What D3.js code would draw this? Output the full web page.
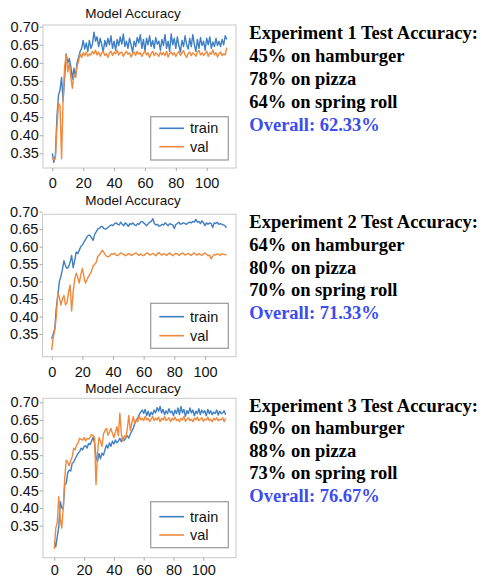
<!DOCTYPE html>
<html><head><meta charset="utf-8">
<script src="https://cdn.jsdelivr.net/npm/d3@7"></script>
<style>body{margin:0;background:#fff}</style>
</head><body>
<script>
// ---- data ----
const xTickValues = [0, 20, 40, 60, 80, 100];
const yTickValues = [0.35, 0.40, 0.45, 0.50, 0.55, 0.60, 0.65, 0.70];
const seriesNames = ["train", "val"];
const chartTitle = "Model Accuracy";

const train1 = [0.350,0.325,0.345,0.450,0.510,0.525,0.560,0.495,0.560,0.625,0.600,0.612,0.590,0.555,0.585,0.560,0.600,0.615,0.632,0.640,
0.662,0.638,0.655,0.632,0.662,0.640,0.652,0.685,0.660,0.672,0.645,0.668,0.650,0.630,0.662,0.645,0.668,0.650,0.675,0.640,
0.660,0.635,0.665,0.648,0.672,0.652,0.680,0.645,0.660,0.640,0.668,0.650,0.630,0.660,0.645,0.670,0.655,0.678,0.640,0.665,
0.632,0.668,0.650,0.675,0.645,0.662,0.640,0.670,0.652,0.660,0.635,0.665,0.648,0.678,0.640,0.660,0.632,0.680,0.650,0.668,
0.640,0.672,0.648,0.630,0.662,0.645,0.675,0.650,0.638,0.668,0.645,0.678,0.650,0.632,0.665,0.640,0.670,0.648,0.660,0.635,
0.668,0.650,0.672,0.640,0.658,0.645,0.668,0.648,0.660,0.645,0.665,0.650,0.675,0.665];
const val1 = [0.338,0.332,0.335,0.420,0.488,0.482,0.335,0.500,0.590,0.622,0.575,0.600,0.560,0.530,0.568,0.560,0.590,0.605,0.625,0.615,
0.628,0.620,0.630,0.618,0.625,0.622,0.632,0.625,0.635,0.622,0.630,0.618,0.628,0.632,0.620,0.626,0.615,0.628,0.632,0.620,
0.630,0.625,0.635,0.622,0.628,0.630,0.618,0.626,0.632,0.624,0.628,0.616,0.625,0.630,0.620,0.632,0.624,0.628,0.618,0.626,
0.634,0.622,0.628,0.615,0.626,0.632,0.620,0.628,0.624,0.618,0.630,0.622,0.628,0.620,0.632,0.616,0.626,0.630,0.622,0.628,
0.618,0.626,0.632,0.620,0.628,0.634,0.622,0.615,0.626,0.630,0.620,0.628,0.624,0.618,0.630,0.634,0.622,0.628,0.620,0.626,
0.632,0.618,0.628,0.624,0.636,0.622,0.628,0.616,0.626,0.630,0.620,0.625,0.622,0.642];

const train2 = [0.336,0.350,0.365,0.425,0.460,0.500,0.515,0.535,0.560,0.545,0.538,0.542,0.555,0.575,0.540,0.560,0.585,0.580,0.590,0.600,
0.605,0.612,0.620,0.628,0.633,0.632,0.625,0.618,0.635,0.642,0.650,0.652,0.657,0.658,0.652,0.650,0.652,0.656,0.660,0.662,
0.660,0.666,0.668,0.664,0.662,0.670,0.664,0.660,0.668,0.664,0.658,0.666,0.664,0.668,0.662,0.660,0.666,0.664,0.670,0.672,
0.668,0.664,0.660,0.666,0.670,0.672,0.680,0.666,0.662,0.664,0.658,0.660,0.664,0.662,0.668,0.664,0.660,0.666,0.664,0.662,
0.652,0.664,0.666,0.670,0.664,0.666,0.668,0.666,0.664,0.668,0.670,0.668,0.672,0.670,0.678,0.670,0.672,0.666,0.674,0.668,
0.660,0.668,0.664,0.668,0.666,0.655,0.668,0.666,0.670,0.664,0.666,0.664,0.662,0.660,0.654];
const val2 = [0.304,0.342,0.360,0.400,0.469,0.455,0.433,0.450,0.460,0.433,0.440,0.470,0.490,0.416,0.470,0.507,0.524,0.512,0.496,0.520,
0.538,0.515,0.496,0.505,0.515,0.522,0.530,0.545,0.549,0.555,0.571,0.576,0.582,0.590,0.584,0.576,0.572,0.571,0.575,0.580,
0.578,0.581,0.576,0.574,0.578,0.582,0.580,0.578,0.574,0.576,0.580,0.578,0.575,0.577,0.580,0.582,0.578,0.575,0.579,0.576,
0.574,0.578,0.582,0.580,0.576,0.578,0.581,0.577,0.574,0.580,0.583,0.578,0.576,0.580,0.578,0.575,0.579,0.582,0.577,0.574,
0.578,0.581,0.579,0.575,0.578,0.582,0.580,0.576,0.578,0.581,0.577,0.575,0.579,0.582,0.578,0.576,0.580,0.577,0.575,0.579,
0.582,0.578,0.574,0.576,0.565,0.572,0.578,0.576,0.579,0.577,0.575,0.580,0.578,0.577,0.576];

const train3 = [0.305,0.290,0.320,0.345,0.418,0.400,0.398,0.465,0.470,0.500,0.508,0.505,0.527,0.530,0.540,0.548,0.555,0.560,0.570,0.565,
0.575,0.577,0.570,0.583,0.580,0.590,0.600,0.585,0.545,0.532,0.555,0.540,0.556,0.550,0.565,0.579,0.570,0.585,0.575,0.590,
0.582,0.593,0.585,0.590,0.598,0.588,0.600,0.592,0.600,0.605,0.598,0.610,0.618,0.626,0.640,0.650,0.655,0.665,0.672,0.678,
0.668,0.680,0.662,0.675,0.660,0.672,0.665,0.678,0.670,0.685,0.675,0.688,0.670,0.680,0.665,0.676,0.668,0.682,0.670,0.675,
0.662,0.678,0.668,0.684,0.665,0.688,0.670,0.680,0.660,0.676,0.668,0.684,0.670,0.678,0.662,0.675,0.668,0.682,0.665,0.678,
0.670,0.676,0.662,0.680,0.668,0.676,0.665,0.672,0.668,0.678,0.664,0.675,0.668,0.670,0.676,0.665];
const val3 = [0.284,0.343,0.360,0.432,0.370,0.343,0.400,0.484,0.536,0.530,0.520,0.535,0.545,0.570,0.565,0.580,0.585,0.598,0.595,0.593,
0.600,0.590,0.598,0.596,0.600,0.609,0.605,0.600,0.467,0.555,0.600,0.590,0.575,0.610,0.620,0.626,0.607,0.615,0.626,0.612,
0.600,0.615,0.631,0.605,0.669,0.610,0.590,0.605,0.600,0.625,0.663,0.620,0.640,0.659,0.640,0.650,0.645,0.662,0.650,0.655,
0.648,0.660,0.650,0.655,0.645,0.652,0.660,0.648,0.655,0.650,0.658,0.645,0.655,0.650,0.660,0.648,0.652,0.656,0.645,0.655,
0.650,0.658,0.648,0.652,0.645,0.655,0.650,0.660,0.646,0.652,0.656,0.648,0.652,0.645,0.655,0.650,0.658,0.648,0.652,0.656,
0.646,0.652,0.650,0.658,0.648,0.652,0.645,0.655,0.650,0.656,0.648,0.652,0.650,0.656,0.645,0.655];

const expHeadings = ["Experiment 1 Test Accuracy:", "Experiment 2 Test Accuracy:", "Experiment 3 Test Accuracy:"];
const classNames = ["hamburger", "pizza", "spring roll"];
const classAcc1 = [45, 78, 64];
const classAcc2 = [64, 80, 70];
const classAcc3 = [69, 88, 73];
const overallAcc = ["62.33%", "71.33%", "76.67%"];

// ---- layout ----
const W = 482, H = 577;
const colors = {train: "#3f7fc4", val: "#f0893c"};
const svg = d3.select("body").append("svg").attr("width", W).attr("height", H)
  .style("font-family", "'Liberation Sans', Arial, sans-serif");

const charts = [
  {train: train1, val: val1, frame: {l: 43, r: 236, t: 25, b: 168},
   x0: 52.3, x100: 206.7, y70: 26.7, y35: 153.3, titleY: 18, xlabY: 188,
   legend: {x: 150.7, y: 116.7, w: 77.6, h: 43.3, r1: 128.3, r2: 146.7}},
  {train: train2, val: val2, frame: {l: 42.5, r: 236, t: 214.3, b: 356.7},
   x0: 51.7, x100: 205, y70: 211.7, y35: 334, titleY: 205, xlabY: 377,
   legend: {x: 150.7, y: 303.3, w: 77.6, h: 45, r1: 316.7, r2: 335.7}},
  {train: train3, val: val3, frame: {l: 43, r: 236, t: 398.3, b: 557.7},
   x0: 54.3, x100: 203.3, y70: 402.3, y35: 525.7, titleY: 393, xlabY: 575,
   legend: {x: 150.7, y: 501.7, w: 77.6, h: 46, r1: 516.7, r2: 535}}
];

const tickFs = 14.5;
charts.forEach(c => {
  const g = svg.append("g");
  const x = d3.scaleLinear().domain([0, 100]).range([c.x0, c.x100]);
  const y = d3.scaleLinear().domain([0.35, 0.70]).range([c.y35, c.y70]);
  const f = c.frame;
  g.append("rect").attr("x", f.l).attr("y", f.t).attr("width", f.r - f.l).attr("height", f.b - f.t)
    .attr("fill", "none").attr("stroke", "#c8c8c8").attr("stroke-width", 1);

  const ya = g.append("g").attr("transform", `translate(${f.l},0)`)
    .call(d3.axisLeft(y).tickValues(yTickValues).tickFormat(d3.format(".2f")).tickSize(3).tickPadding(1.2));
  const xPad = c.xlabY - f.b - 0.71 * tickFs - 3;
  const xa = g.append("g").attr("transform", `translate(0,${f.b})`)
    .call(d3.axisBottom(x).tickValues(xTickValues).tickFormat(d3.format("d")).tickSize(3).tickPadding(xPad));
  [ya, xa].forEach(a => {
    a.select(".domain").remove();
    a.selectAll(".tick line").attr("stroke", "#aaa");
    a.selectAll("text").attr("font-size", tickFs).attr("fill", "#111").style("font-family", "'Liberation Sans', Arial, sans-serif");
  });

  g.append("text").attr("x", 133).attr("y", c.titleY).attr("text-anchor", "middle")
    .attr("font-size", 13.5).attr("fill", "#111").text(chartTitle);

  const line = d3.line().x((d, i) => x(i)).y(d => y(d));
  seriesNames.forEach(s => {
    g.append("path").datum(c[s]).attr("d", line).attr("fill", "none")
      .attr("stroke", colors[s]).attr("stroke-width", 1.4).attr("stroke-linejoin", "round");
  });

  const L = c.legend;
  g.append("rect").attr("x", L.x).attr("y", L.y).attr("width", L.w).attr("height", L.h)
    .attr("fill", "#fff").attr("stroke", "#a0a0a0").attr("stroke-width", 1.3);
  [[seriesNames[0], L.r1], [seriesNames[1], L.r2]].forEach(([s, ry]) => {
    g.append("line").attr("x1", L.x + 8.6).attr("x2", L.x + 33.3).attr("y1", ry).attr("y2", ry)
      .attr("stroke", colors[s]).attr("stroke-width", 1.6);
    g.append("text").attr("x", L.x + 39.3).attr("y", ry).attr("dy", "0.35em")
      .attr("font-size", 14.5).attr("fill", "#111").text(s);
  });
});

// ---- text blocks ----
const blocks = [
  {acc: classAcc1, base: 38.5, step: 23.0},
  {acc: classAcc2, base: 228.3, step: 22.6},
  {acc: classAcc3, base: 411.7, step: 22.5}
];
blocks.forEach((b, k) => {
  const lines = [expHeadings[k]].concat(b.acc.map((a, i) => `${a}% on ${classNames[i]}`));
  const t = svg.append("g").style("font-family", "'Liberation Serif', 'Times New Roman', serif")
    .attr("font-weight", "bold").attr("font-size", 18.5);
  lines.forEach((s, i) => {
    t.append("text").attr("x", 249.3).attr("y", b.base + i * b.step).attr("fill", "#000").text(s);
  });
  t.append("text").attr("x", 249.3).attr("y", b.base + 4 * b.step).attr("fill", "#3b4cf0")
    .text("Overall: " + overallAcc[k]);
});
</script>
</body></html>
